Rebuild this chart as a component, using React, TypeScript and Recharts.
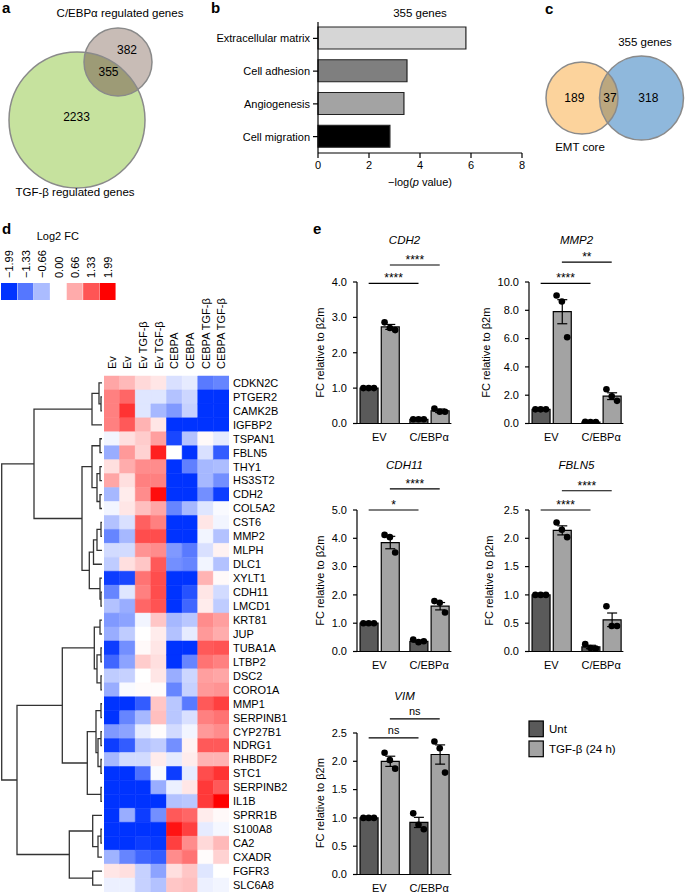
import React from "react";
import {
  BarChart,
  Bar,
  XAxis,
  YAxis,
  Cell,
  ScatterChart,
  Scatter,
  ComposedChart,
  ErrorBar,
  ReferenceLine,
} from "recharts";

const FONT = '"Liberation Sans", Arial, Helvetica, sans-serif';

// ---- a: Venn, TGF-β vs C/EBPα regulated genes
const vennASets = ["TGF-β regulated genes", "C/EBPα regulated genes"];
const vennACounts = [2233, 355, 382]; // first only, both, second only

// ---- b: GO enrichment of the 355 shared genes
const goTerms = ["Extracellular matrix", "Cell adhesion", "Angiogenesis", "Cell migration"];
const goLogP = [5.8, 3.49, 3.37, 2.82];
const goTicks = [0, 2, 4, 6, 8];

// ---- c: Venn, EMT core vs 355 genes
const vennCSets = ["EMT core", "355 genes"];
const vennCCounts = [189, 37, 318];

// ---- d: heatmap
const legendSteps = [-1.99, -1.33, -0.66, 0, 0.66, 1.33, 1.99];
const heatSamples = ["Ev", "Ev", "Ev TGF-β", "Ev TGF-β", "CEBPA", "CEBPA", "CEBPA TGF-β", "CEBPA TGF-β"];
const heatGenes = [
  "CDKN2C", "PTGER2", "CAMK2B", "IGFBP2", "TSPAN1", "FBLN5", "THY1", "HS3ST2", "CDH2", "COL5A2",
  "CST6", "MMP2", "MLPH", "DLC1", "XYLT1", "CDH11", "LMCD1", "KRT81", "JUP", "TUBA1A",
  "LTBP2", "DSC2", "CORO1A", "MMP1", "SERPINB1", "CYP27B1", "NDRG1", "RHBDF2", "STC1", "SERPINB2",
  "IL1B", "SPRR1B", "S100A8", "CA2", "CXADR", "FGFR3", "SLC6A8",
];
const heatLog2FC = [
  [0.7, 0.55, 0.3, 0.2, -0.3, -0.2, -1.3, -1.2],
  [1.0, 1.2, -0.25, -0.25, -0.6, -0.4, -2, -2],
  [1.0, 1.6, -0.25, -0.7, -1.0, -0.45, -2, -2],
  [1.0, 1.3, 0.6, 0.2, -2, -2, -2, -2],
  [-0.1, 0.25, 0.4, 0.75, -1.8, -0.6, 0.05, -0.2],
  [-0.8, 0.8, 0.35, 1.75, 0, -2, -0.3, -1.6],
  [0.25, 0.65, 0.9, 0.9, -2, -1.25, -0.7, -0.65],
  [0.7, 0.25, 1.0, 1.0, -2, -2, -0.7, -1.1],
  [-0.7, 0.15, 0.9, 1.9, -2, -2, -1.1, -1.9],
  [-0.1, 0.2, 0.5, 0.7, -1.2, -0.7, -0.25, -0.05],
  [-0.6, -0.3, 1.25, 1.0, -2, -2, 0.2, -0.1],
  [-1.2, -0.7, 1.4, 1.4, -2, -2, -0.1, -0.6],
  [-0.35, -0.35, 0.85, 0.9, -1.0, -1.3, -0.3, 0.1],
  [-0.5, 0.25, 0.45, 1.3, -1.1, -1.2, -0.1, -0.6],
  [-1.9, -1.8, 1.1, 1.4, -2, -2, 0.6, 0.05],
  [-1.2, -0.25, 1.0, 1.4, -2, -1.7, 0.2, -0.35],
  [-0.6, -0.8, 1.2, 1.35, -2, -1.5, 0.15, -0.5],
  [-1.0, -0.9, -0.1, 0.45, -0.7, -0.55, 0.9, 0.75],
  [-0.8, -0.5, 0, 0.15, -0.6, -0.2, 0.8, 0.65],
  [-1.9, -1.1, 0.05, 0.2, -2, -2, 1.3, 1.35],
  [-1.5, -0.9, 0.4, 0.25, -2, -1.2, 1.1, 1.0],
  [-0.5, -0.45, 0, 0.2, -0.8, -0.4, 0.75, 0.7],
  [-0.8, -0.05, 0.03, 0.03, -1.2, -0.45, 0.8, 0.85],
  [-2, -2, -1.6, 0.45, -0.55, -1.3, 1.3, 1.5],
  [-2, -1.2, -0.7, 0.5, -0.55, -0.3, 1.0, 1.1],
  [-1.0, -0.9, -0.2, 0.02, -0.35, -0.1, 0.8, 0.9],
  [-1.9, -1.6, -0.6, -0.5, -1.1, 0.1, 1.3, 1.3],
  [-0.7, -0.35, -0.35, 0.15, -0.2, 0.15, 0.6, 0.6],
  [-2, -2, -1.4, -0.05, -1.9, -0.2, 1.4, 1.6],
  [-2, -2, -2, -0.8, -0.15, 0.2, 1.55, 1.3],
  [-2, -2, -2, -2, -0.6, -0.55, 1.55, 2.0],
  [-2, -0.8, -1.9, -1.1, 1.3, 1.2, 0.15, 0.05],
  [-2, -2, -2, -2, 1.85, 1.5, -0.2, -0.08],
  [-2, -2, -1.9, -1.95, 1.5, 0.9, 0.3, 0.55],
  [-0.75, -1.2, -1.5, -1.6, 0.9, 1.1, 0.02, 0.35],
  [0.2, 0.25, -0.45, -0.9, 0.25, 0.45, -0.25, 0],
  [-0.15, -0.15, -0.45, -0.6, 0.45, 0.5, -0.15, -0.1],
];

// row clustering: [left, right, merge height]; leaves are row indices
type Node = number | [Node, Node, number];
const dendroTree: Node = [
  [
    [[0, [1, 2, 1], 3], 3, 10],
    [
      [[4, 5, 2], [[6, 7, 2], [8, 9, 2], 5], 10],
      [[[[10, 11, 1], 12, 5], 13, 8.5], [14, [15, 16, 1], 2], 12.7],
      20,
    ],
    68,
  ],
  [
    [
      [[17, 18, 2], [[19, 20, 1], [21, 22, 1], 5], 7.7],
      [[[23, 24, 1], [[25, 26, 1], [27, 28, 1], 4], 6], [29, 30, 1], 14.7],
      39.7,
    ],
    [[31, [[32, 33, 1], 34, 4], 9.3], [35, 36, 9.3], 32.7],
    85,
  ],
  100.3,
];

// ---- e: qPCR, bars are EV Unt, EV TGF-β, C/EBPα Unt, C/EBPα TGF-β
const qGroups = ["EV", "C/EBPα"];
const qConditions = ["Unt", "TGF-β (24 h)"];

const cdh2Mean = [1.0, 2.73, 0.12, 0.36];
const cdh2Sem = [0, 0.07, 0.01, 0.05];
const cdh2Reps = [[1, 1, 1], [2.86, 2.7, 2.64], [0.12, 0.12, 0.12], [0.42, 0.33, 0.33]];
const cdh2Sig = ["****", "****"];
const cdh2Ticks = [0, 1, 2, 3, 4];

const mmp2Mean = [1.0, 7.9, 0.1, 1.93];
const mmp2Sem = [0, 0.85, 0.02, 0.24];
const mmp2Reps = [[1, 1, 1], [9.05, 8.62, 6.1], [0.12, 0.1, 0.1], [2.42, 1.93, 1.6]];
const mmp2Sig = ["****", "**"];
const mmp2Ticks = [0, 2, 4, 6, 8, 10];

const cdh11Mean = [1.0, 3.85, 0.36, 1.6];
const cdh11Sem = [0, 0.22, 0.03, 0.13];
const cdh11Reps = [[1, 1, 1], [4.12, 4.04, 3.5], [0.42, 0.33, 0.36], [1.78, 1.72, 1.38]];
const cdh11Sig = ["*", "****"];
const cdh11Ticks = [0, 1, 2, 3, 4, 5];

const fbln5Mean = [1.0, 2.14, 0.08, 0.56];
const fbln5Sem = [0, 0.08, 0.03, 0.12];
const fbln5Reps = [[1, 1, 1], [2.28, 2.15, 2.02], [0.13, 0.06, 0.05], [0.8, 0.45, 0.45]];
const fbln5Sig = ["****", "****"];
const fbln5Ticks = [0, 0.5, 1, 1.5, 2, 2.5];

const vimMean = [1.0, 2.0, 0.92, 2.12];
const vimSem = [0, 0.09, 0.09, 0.17];
const vimReps = [[1, 1, 1], [2.15, 2.02, 1.87], [1.08, 0.88, 0.8], [2.35, 2.23, 1.8]];
const vimSig = ["ns", "ns"];
const vimTicks = [0, 0.5, 1, 1.5, 2, 2.5];

// ---------------------------------------------------------------------------

const NoDot = () => <g />;

function heatColor(v: number) {
  const t = Math.min(1, Math.abs(v) / 2);
  if (v < 0) return `rgb(${Math.round(255 * (1 - t))},${Math.round(255 - 204 * t)},255)`;
  return `rgb(255,${Math.round(255 * (1 - t))},${Math.round(255 * (1 - t))})`;
}

const RotatedTick = (props: any) => {
  const { x, y, payload, labels } = props;
  const text = labels ? labels[Math.floor(payload.value)] : payload.value;
  return (
    <text transform={`translate(${x + 4},${y}) rotate(-90)`} textAnchor="start" fontSize={11} fill="#000">
      {text}
    </text>
  );
};

// ---- Venn drawn as scatter points with circle shapes (1 unit = 1 px)
const CircleFill = (p: any) => (
  <circle cx={p.cx} cy={p.cy} r={p.payload.r} fill={p.payload.fill} />
);
const CircleEdge = (p: any) => (
  <circle cx={p.cx} cy={p.cy} r={p.payload.r} fill="none" stroke="#8a8a8a" strokeWidth={1.5} />
);
const LensShape = (p: any) => {
  const { cx, cy, payload } = p;
  const ox = cx + (payload.clip.x - payload.x);
  const oy = cy + (payload.clip.y - payload.y);
  return (
    <g>
      <defs>
        <clipPath id={payload.id}>
          <circle cx={ox} cy={oy} r={payload.clip.r} />
        </clipPath>
      </defs>
      <circle cx={cx} cy={cy} r={payload.r} fill={payload.fill} clipPath={`url(#${payload.id})`} />
    </g>
  );
};
const TextShape = (p: any) => (
  <text x={p.cx} y={p.cy} textAnchor="middle" dominantBaseline="central" fontSize={p.payload.size} fill="#000">
    {p.payload.text}
  </text>
);

function Venn({ id, left, top, width, height, circles, fills, lensFill, sets, setPos, counts, countPos }: any) {
  const circleData = circles.map((c: any, i: number) => ({ ...c, fill: fills[i] }));
  const lens = [{ ...circles[1], clip: circles[0], fill: lensFill, id }];
  const textData = [
    ...counts.map((n: number, i: number) => ({ x: countPos[i][0], y: countPos[i][1], text: String(n), size: 12 })),
    ...sets.map((s: string, i: number) => ({ x: setPos[i][0], y: setPos[i][1], text: s, size: 11.5 })),
  ];
  return (
    <div style={{ position: "absolute", left, top }}>
      <ScatterChart width={width} height={height} margin={{ top: 0, right: 0, bottom: 0, left: 0 }}>
        <XAxis type="number" dataKey="x" domain={[0, width]} ticks={[0, width]} allowDataOverflow hide />
        <YAxis type="number" dataKey="y" domain={[0, height]} ticks={[0, height]} allowDataOverflow reversed hide />
        <Scatter data={circleData} shape={CircleFill} isAnimationActive={false} />
        <Scatter data={lens} shape={LensShape} isAnimationActive={false} />
        <Scatter data={circleData} shape={CircleEdge} isAnimationActive={false} />
        <Scatter data={textData} shape={TextShape} isAnimationActive={false} />
      </ScatterChart>
    </div>
  );
}

// ---- b
const GO_FILL = ["#d6d6d6", "#7f7f7f", "#a3a3a3", "#000000"];

const GoTick = (p: any) => (
  <text x={p.x} y={p.y} textAnchor="end" dominantBaseline="central" fontSize={11} fill="#000">
    {p.payload.value}
  </text>
);

function GoBars() {
  const data = goTerms.map((t, i) => ({ term: t, logP: goLogP[i] }));
  return (
    <div style={{ position: "absolute", left: 198, top: 0 }}>
      <BarChart width={330} height={195} layout="vertical" data={data} margin={{ top: 22, right: 6, left: 0, bottom: 0 }}>
        <XAxis
          type="number"
          domain={[0, 8]}
          ticks={goTicks}
          height={42}
          interval={0}
          tickSize={5}
          tickMargin={3}
          axisLine={{ stroke: "#000", strokeWidth: 1.2 }}
          tickLine={{ stroke: "#000", strokeWidth: 1.2 }}
          tick={{ fontSize: 11, fill: "#000" }}
        />
        <YAxis
          type="category"
          dataKey="term"
          width={120}
          interval={0}
          tickSize={5}
          tickMargin={3}
          axisLine={{ stroke: "#000", strokeWidth: 1.2 }}
          tickLine={{ stroke: "#000", strokeWidth: 1.2 }}
          tick={<GoTick />}
        />
        <Bar dataKey="logP" barSize={22} stroke="#222" strokeWidth={1.2} isAnimationActive={false}>
          {data.map((_, i) => (
            <Cell key={i} fill={GO_FILL[i]} />
          ))}
        </Bar>
      </BarChart>
    </div>
  );
}

// ---- d
function ColorKey() {
  const data = legendSteps.map((v) => ({
    label: v < 0 ? `\u2212${Math.abs(v).toFixed(2)}` : v.toFixed(2),
    one: 1,
    v,
  }));
  return (
    <div style={{ position: "absolute", left: 1, top: 225 }}>
      <BarChart width={115} height={75} data={data} margin={{ top: 0, right: 0, left: 0, bottom: 0 }} barCategoryGap={0}>
        <XAxis dataKey="label" orientation="top" height={58} interval={0} axisLine={false} tickLine={false} tickSize={3} tickMargin={2} tick={<RotatedTick />} />
        <YAxis hide domain={[0, 1]} />
        <Bar dataKey="one" isAnimationActive={false}>
          {data.map((d, i) => (
            <Cell key={i} fill={heatColor(d.v)} />
          ))}
        </Bar>
      </BarChart>
    </div>
  );
}

const HEAT_TOP = 376;
const HEAT_H = 516;
const HEAD_H = 95;

function buildSegments(tree: Node) {
  const segs: { h: number; row: number }[][] = [];
  const walk = (n: Node): { row: number; h: number } => {
    if (typeof n === "number") return { row: n, h: 0 };
    const a = walk(n[0]);
    const b = walk(n[1]);
    const h = n[2];
    segs.push([
      { h: a.h, row: a.row },
      { h, row: a.row },
      { h, row: b.row },
      { h: b.h, row: b.row },
    ]);
    return { row: (a.row + b.row) / 2, h };
  };
  walk(tree);
  return segs;
}

function Dendrogram() {
  const segs = buildSegments(dendroTree);
  return (
    <div style={{ position: "absolute", left: 0, top: HEAT_TOP }}>
      <ScatterChart width={104} height={HEAT_H} margin={{ top: 0, right: 0, bottom: 0, left: 0 }}>
        <XAxis type="number" dataKey="h" domain={[-2, 102]} ticks={[-2, 102]} allowDataOverflow reversed hide />
        <YAxis type="number" dataKey="row" domain={[-0.5, heatGenes.length - 0.5]} allowDataOverflow reversed hide />
        {segs.map((s, i) => (
          <Scatter key={i} data={s} line={{ stroke: "#333", strokeWidth: 1.3 }} shape={NoDot} isAnimationActive={false} />
        ))}
      </ScatterChart>
    </div>
  );
}

function Heatmap() {
  const data = heatGenes.map((g) => {
    const row: any = { gene: g };
    heatSamples.forEach((_, k) => (row[`s${k}`] = 1));
    return row;
  });
  const colTicks = heatSamples.map((_, k) => k + 0.5);
  return (
    <div style={{ position: "absolute", left: 104, top: HEAT_TOP - HEAD_H }}>
      <BarChart width={185} height={HEAD_H + HEAT_H} data={data} layout="vertical" margin={{ top: 0, right: 0, left: 0, bottom: 0 }} barCategoryGap={0}>
        <XAxis type="number" orientation="top" domain={[0, heatSamples.length]} ticks={colTicks} height={HEAD_H} interval={0} axisLine={false} tickLine={false} tickSize={5} tickMargin={2} tick={<RotatedTick labels={heatSamples} />} allowDataOverflow />
        <YAxis type="category" dataKey="gene" orientation="right" width={60} interval={0} axisLine={false} tickLine={false} tickSize={2} tickMargin={2} tick={{ fontSize: 11, fill: "#000" }} />
        {heatSamples.map((_, k) => (
          <Bar key={k} dataKey={`s${k}`} stackId="h" isAnimationActive={false}>
            {heatLog2FC.map((row, i) => (
              <Cell key={i} fill={heatColor(row[k])} stroke={heatColor(row[k])} strokeWidth={0.5} />
            ))}
          </Bar>
        ))}
      </BarChart>
    </div>
  );
}

// ---- e
const PLOT_W = 94.4;
const PLOT_H = 141.5;
const ML = 45;
const MT = 62;
const MR = 8;
const XH = 25;
const GROUP_STEP = 2.35;
const X_DOMAIN = [-0.55, 3.9];
const JITTER = [-0.25, 0, 0.25];
const COND_FILL = ["#5a5a5a", "#a3a3a3"];
const barX = (i: number) => Math.floor(i / 2) * GROUP_STEP + (i % 2);

const qpcrLayout = [
  { plotLeft: 357.3, plotTop: 282, titleDy: -38, levels: [0.99, 1.12], labelGap: 37 },
  { plotLeft: 529.3, plotTop: 282, titleDy: -38, levels: [0.99, 1.14], labelGap: 43 },
  { plotLeft: 357.3, plotTop: 510, titleDy: -41, levels: [1.0, 1.15], labelGap: 37 },
  { plotLeft: 529.3, plotTop: 510, titleDy: -41, levels: [1.0, 1.136], labelGap: 40 },
  { plotLeft: 357.3, plotTop: 732.5, titleDy: -32.5, levels: [0.965, 1.1], labelGap: 37 },
];

const qpcrSets = [
  { gene: "CDH2", mean: cdh2Mean, sem: cdh2Sem, reps: cdh2Reps, sig: cdh2Sig, ticks: cdh2Ticks },
  { gene: "MMP2", mean: mmp2Mean, sem: mmp2Sem, reps: mmp2Reps, sig: mmp2Sig, ticks: mmp2Ticks },
  { gene: "CDH11", mean: cdh11Mean, sem: cdh11Sem, reps: cdh11Reps, sig: cdh11Sig, ticks: cdh11Ticks },
  { gene: "FBLN5", mean: fbln5Mean, sem: fbln5Sem, reps: fbln5Reps, sig: fbln5Sig, ticks: fbln5Ticks },
  { gene: "VIM", mean: vimMean, sem: vimSem, reps: vimReps, sig: vimSig, ticks: vimTicks },
];

const DotShape = (p: any) => <circle cx={p.cx} cy={p.cy} r={3.3} fill="#000" />;

function QpcrChart({ cfg, set }: any) {
  const yMax = set.ticks[set.ticks.length - 1];
  const bars = set.mean.map((m: number, i: number) => ({ x: barX(i), mean: m, sem: set.sem[i] }));
  const dots = set.reps.flatMap((rs: number[], i: number) => rs.map((v, k) => ({ x: barX(i) + JITTER[k], y: v })));
  const groupMid = qGroups.map((_, g) => g * GROUP_STEP + 0.5);
  return (
    <div style={{ position: "absolute", left: cfg.plotLeft - ML, top: cfg.plotTop - MT }}>
      <ComposedChart width={ML + PLOT_W + MR} height={MT + PLOT_H + XH} data={bars} margin={{ top: MT, right: MR, bottom: 0, left: 0 }}>
        <XAxis
          type="number"
          dataKey="x"
          domain={X_DOMAIN}
          ticks={groupMid}
          interval={0}
          tickFormatter={(v: number) => qGroups[Math.round(v / GROUP_STEP)]}
          tickLine={false}
          tickSize={6}
          tickMargin={3.5}
          height={XH}
          axisLine={{ stroke: "#000", strokeWidth: 1.2 }}
          tick={{ fontSize: 11, fill: "#000" }}
          allowDataOverflow
        />
        <XAxis xAxisId="dots" type="number" dataKey="x" domain={X_DOMAIN} allowDataOverflow hide />
        <YAxis
          type="number"
          domain={[0, yMax]}
          ticks={set.ticks}
          interval={0}
          tickFormatter={(v: number) => v.toFixed(1)}
          width={ML}
          tickSize={4}
          tickMargin={6}
          axisLine={{ stroke: "#000", strokeWidth: 1.2 }}
          tickLine={{ stroke: "#000", strokeWidth: 1.2 }}
          tick={{ fontSize: 11, fill: "#000" }}
          allowDataOverflow
        />
        <Bar dataKey="mean" barSize={18} stroke="#000" strokeWidth={1.2} isAnimationActive={false}>
          {bars.map((_: any, i: number) => (
            <Cell key={i} fill={COND_FILL[i % 2]} />
          ))}
          <ErrorBar dataKey="sem" width={5} stroke="#000" strokeWidth={1.2} direction="y" />
        </Bar>
        <Scatter xAxisId="dots" data={dots} dataKey="y" shape={DotShape} isAnimationActive={false} />
        {set.sig.map((s: string, j: number) => (
          <ReferenceLine
            key={j}
            segment={[
              { x: barX(j), y: yMax * cfg.levels[j] },
              { x: barX(j + 2), y: yMax * cfg.levels[j] },
            ]}
            stroke="#000"
            strokeWidth={1.2}
            ifOverflow="visible"
            label={{ value: s, position: "top", offset: s === "ns" ? 4 : 1, fontSize: s === "ns" ? 11 : 12, fill: "#000" }}
          />
        ))}
      </ComposedChart>
    </div>
  );
}

export default function App() {
  return (
    <div
      style={{
        position: "absolute",
        left: 0,
        top: 0,
        width: 685,
        height: 893,
        background: "#fff",
        fontFamily: FONT,
        overflow: "hidden",
      }}
    >
      <Venn
        id="lensA"
        left={0}
        top={0}
        width={230}
        height={200}
        circles={[{ x: 77, y: 120, r: 68 }, { x: 118, y: 62, r: 34 }]}
        fills={["#c6e29e", "#c8bcb6"]}
        lensFill="#9d9b76"
        sets={vennASets}
        setPos={[[75, 192], [120, 13]]}
        counts={vennACounts}
        countPos={[[76.5, 117], [108.5, 72], [127, 49.5]]}
      />
      <GoBars />
      <Venn
        id="lensC"
        left={455}
        top={0}
        width={230}
        height={160}
        circles={[{ x: 127, y: 98, r: 36 }, { x: 186.5, y: 98, r: 42 }]}
        fills={["#fcd39c", "#8fb8dc"]}
        lensFill="#bba77f"
        sets={vennCSets}
        setPos={[[125, 147], [190, 42]]}
        counts={vennCCounts}
        countPos={[[119.3, 98.3], [155, 98.3], [193.3, 98.3]]}
      />
      <ColorKey />
      <Dendrogram />
      <Heatmap />
      {qpcrSets.map((s, i) => (
        <QpcrChart key={s.gene} cfg={qpcrLayout[i]} set={s} />
      ))}

      <svg width={685} height={893} style={{ position: "absolute", left: 0, top: 0, pointerEvents: "none" }} fontFamily={FONT}>
        <text x={2} y={13} fontSize={15} fontWeight="bold">a</text>
        <text x={211} y={13} fontSize={15} fontWeight="bold">b</text>
        <text x={545} y={13.5} fontSize={15} fontWeight="bold">c</text>
        <text x={2} y={234} fontSize={15} fontWeight="bold">d</text>
        <text x={313} y={234} fontSize={15} fontWeight="bold">e</text>

        <text x={420} y={16.5} fontSize={11.5} textAnchor="middle">355 genes</text>
        <text x={420} y={186} fontSize={11} textAnchor="middle">
          {"\u2212log("}
          <tspan fontStyle="italic">p</tspan>
          {" value)"}
        </text>
        <text x={36.7} y={240} fontSize={11}>Log2 FC</text>

        {qpcrSets.map((s, i) => {
          const c = qpcrLayout[i];
          const cx = c.plotLeft + PLOT_W / 2;
          const ly = c.plotTop + PLOT_H / 2;
          const lx = c.plotLeft - c.labelGap;
          return (
            <g key={s.gene}>
              <text x={cx} y={c.plotTop + c.titleDy} fontSize={11.5} fontStyle="italic" textAnchor="middle">
                {s.gene}
              </text>
              <text transform={`translate(${lx},${ly}) rotate(-90)`} fontSize={11} textAnchor="middle" dominantBaseline="central">
                FC relative to β2m
              </text>
            </g>
          );
        })}

        {qConditions.map((c, i) => (
          <g key={c}>
            <rect x={529} y={721 + i * 20} width={14.3} height={15.7} fill={COND_FILL[i]} stroke="#000" strokeWidth={1.2} />
            <text x={549} y={733 + i * 20} fontSize={11.5}>{c}</text>
          </g>
        ))}
      </svg>
    </div>
  );
}
